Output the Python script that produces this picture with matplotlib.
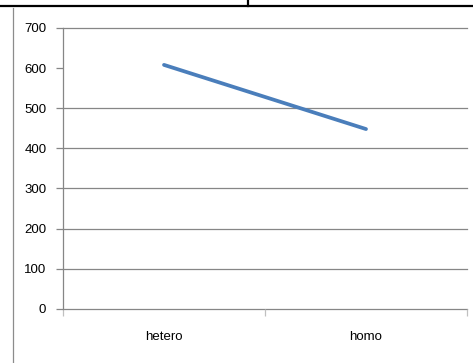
import matplotlib.pyplot as plt
from matplotlib.lines import Line2D

# data
categories = ['hetero', 'homo']
values = [608, 448]
yticks = [0, 100, 200, 300, 400, 500, 600, 700]
grid_levels = [0, 100, 200, 300, 400, 500, 700]  # 600 line not visible in the original

plt.rcParams['font.family'] = ['Liberation Sans Narrow', 'Liberation Sans', 'DejaVu Sans']

W, H = 473, 363
fig = plt.figure(figsize=(W / 100, H / 100), dpi=100)

# frame bits around the chart (black top rule, grey left border)
fig.add_artist(Line2D([0, 1], [1 - 6 / H, 1 - 6 / H], color='black', lw=1.6))
fig.add_artist(Line2D([248 / W, 248 / W], [1 - 6 / H, 1], color='black', lw=1.6))
fig.add_artist(Line2D([12.5 / W, 12.5 / W], [0, 1 - 8 / H], color='#8c8c8c', lw=0.9))

left, right = 63 / W, 467 / W
bottom, top = (H - 308.7) / H, (H - 28) / H
ax = fig.add_axes([left, bottom, right - left, top - bottom])

x = [0.5, 1.5]
ax.plot(x, values, color='#4a7ebb', lw=2.7, solid_capstyle='round')

for g in grid_levels:
    ax.axhline(g, color='#868686', lw=0.9, zorder=0, clip_on=False)

ax.set_xlim(0, 2)
ax.set_ylim(0, 700)
ax.set_yticks(yticks)
ax.set_xticks([0.5, 1.5])
ax.set_xticklabels(categories)
ax.set_xticks([0, 1, 2], minor=True)

for s in ['top', 'right', 'bottom']:
    ax.spines[s].set_visible(False)
ax.spines['left'].set_color('#868686')
ax.spines['left'].set_linewidth(0.9)

ax.tick_params(axis='y', length=5, width=0.9, color='#868686', pad=7,
               labelsize=9.5, labelcolor='#000000')
ax.tick_params(axis='x', which='major', length=0, pad=16, labelsize=9.5)
ax.tick_params(axis='x', which='minor', length=5, width=0.9, color='#c0c0c0')

fig.savefig('out.png', dpi=100)
